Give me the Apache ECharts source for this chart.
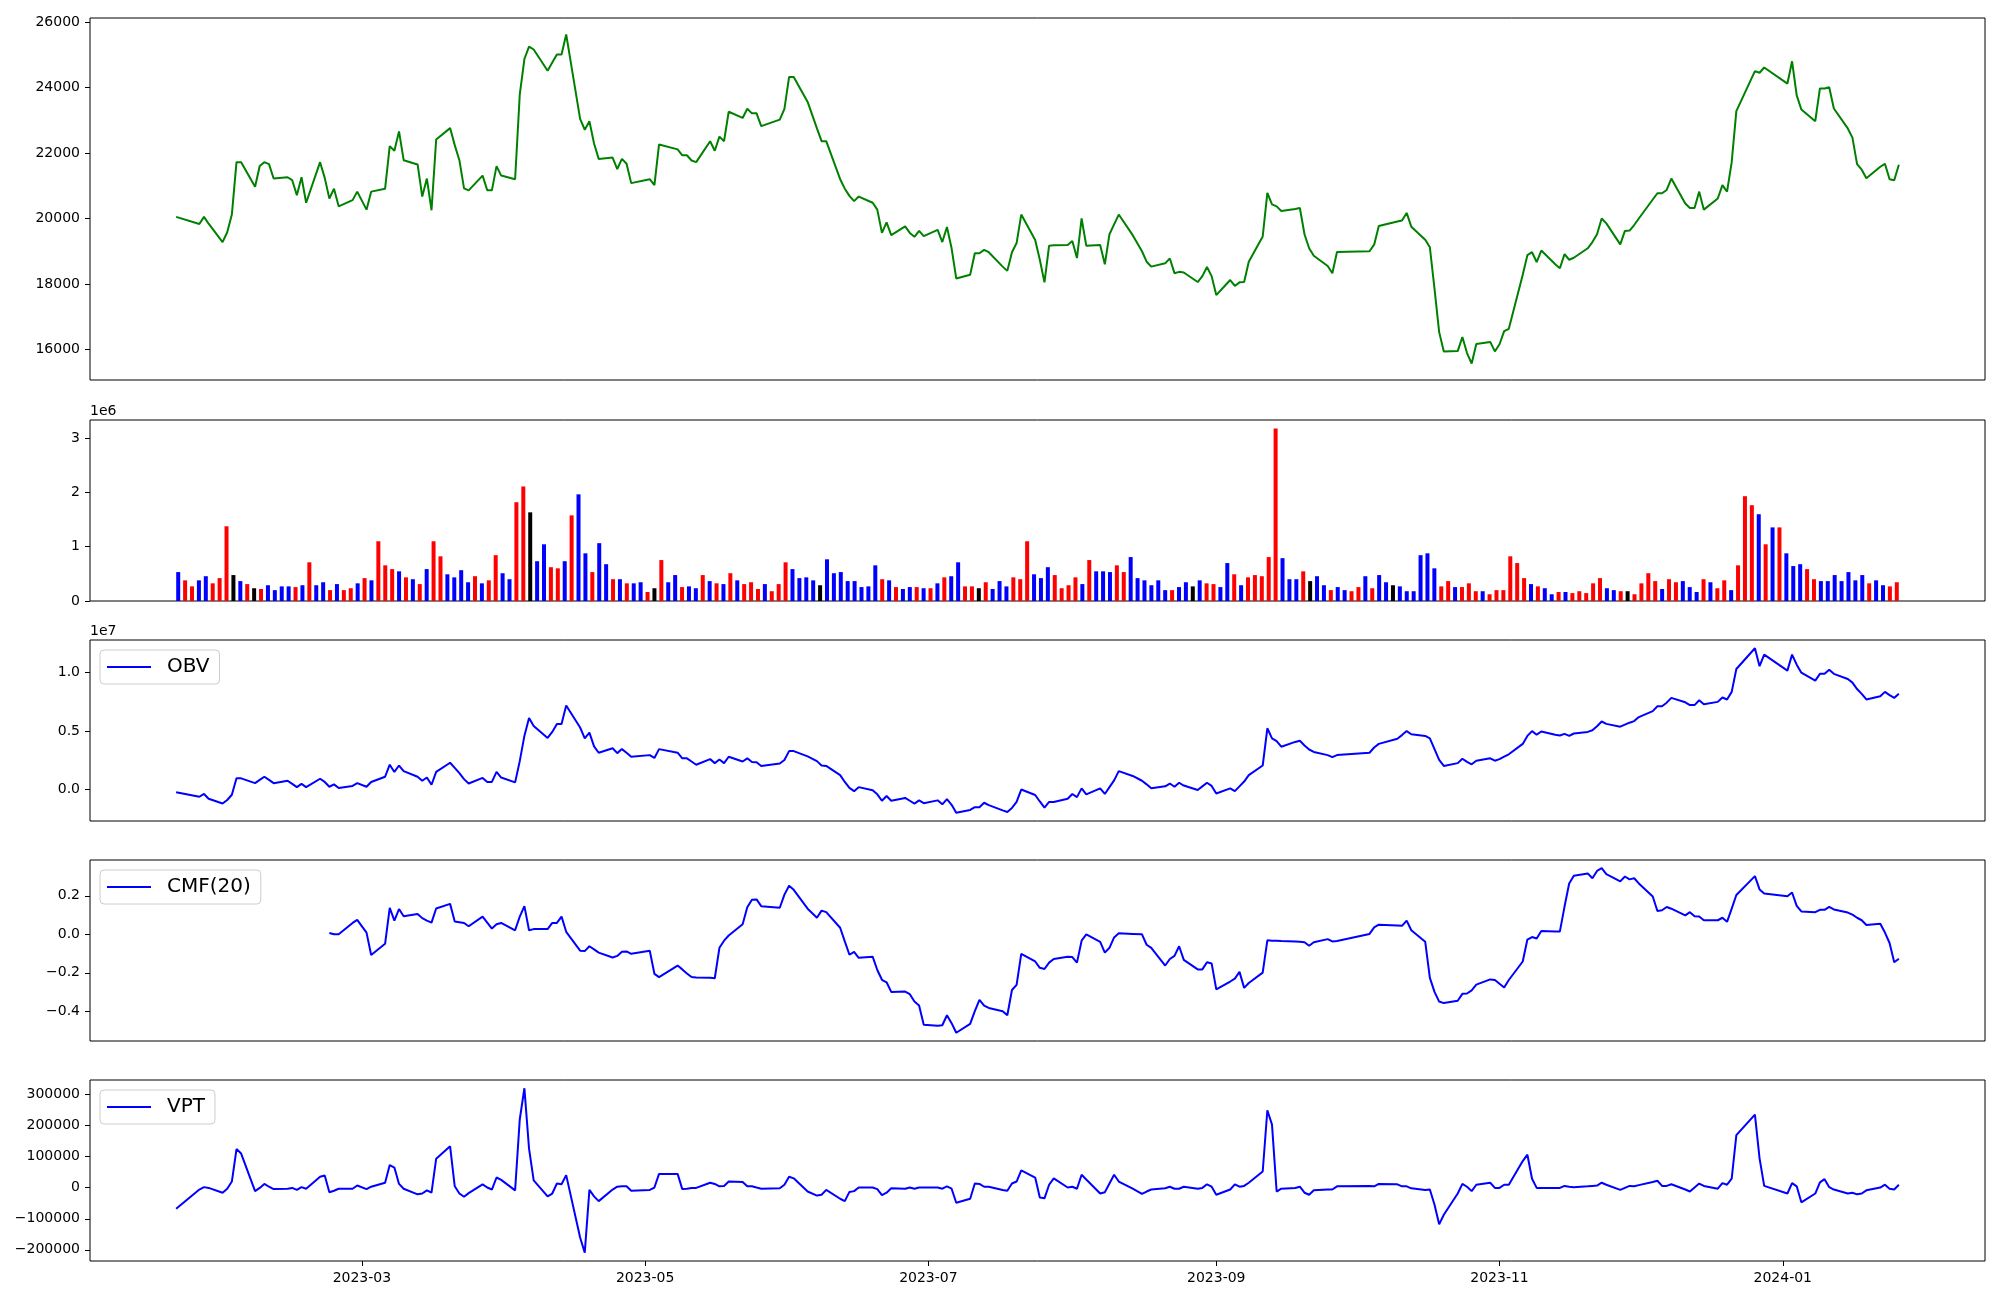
<!DOCTYPE html>
<html><head><meta charset="utf-8">
<script src="https://cdn.jsdelivr.net/npm/echarts@6/dist/echarts.min.js"></script>
<style>html,body{margin:0;padding:0;background:#fff}#c{width:2000px;height:1300px}</style>
</head><body><div id="c"></div>
<script>
// ---------------- DATA ----------------
const firstDay = '2023-01-20';
const lastDay = '2024-01-26';
const holidays = ['2023-01-23','2023-01-24','2023-03-01','2023-05-01','2023-05-05','2023-05-29','2023-06-06',
  '2023-08-15','2023-09-28','2023-09-29','2023-10-02','2023-10-03','2023-10-09','2023-12-25','2023-12-29','2024-01-01'];
const xTickLabels = ['2023-03','2023-05','2023-07','2023-09','2023-11','2024-01'];

const close = [20050,19830,20050,19840,19280,19580,
20120,21720,21720,20970,21600,21720,21660,21220,21260,21170,20710,21260,20480,21720,21240,20610,20910,20370,20560,20820,
20270,20820,20910,22210,22070,22660,21780,21650,20670,21220,20250,22410,22760,22240,21780,20920,20860,21310,20860,20860,21600,21310,
21200,23780,24870,25250,25160,24510,24760,25010,25010,25620,23040,22710,22970,22290,21820,21860,21510,21820,21670,21080,
21200,21020,22260,22110,21930,21930,21770,21720,22360,22070,22500,22360,23260,23070,23350,23210,23210,22820,23020,23350,
24320,24320,23560,22750,22360,22360,21200,20910,20690,20530,20670,20480,20270,19560,19880,19490,19760,19560,19440,19620,19460,
19650,19280,19740,19090,18170,18280,18940,18940,19040,18970,18530,18400,18970,19250,20120,19340,18740,18050,19170,19180,19190,
19310,18790,20000,19170,19190,18600,19520,19820,20120,19490,19000,18680,18530,18630,18780,18330,18370,18350,18060,18240,18520,18240,
17660,18120,17940,18050,18060,18680,19450,20780,20430,20370,20230,20290,20320,19520,19090,18860,18550,18330,18980,
19000,19200,19770,19910,19940,20170,19750,19350,19120,17850,16530,15940,15950,16380,15890,15570,16170,16230,15940,
16160,16560,16630,18280,18880,18970,18670,19020,18600,18480,18910,18740,18800,19090,19280,19520,20000,19850,19210,19620,19630,19800,
20000,20580,20770,20770,20870,21220,20460,20320,20320,20820,20270,20610,21020,20820,21720,23280,24500,24450,24610,
24120,24800,23760,23330,22970,23970,23970,24010,23360,22750,22470,21660,21490,21230,21580,21670,21200,21170,21640];

// volume in thousands of shares
const volumeK = [532,380,269,380,456,325,421,1375,477,366,311,235,221,290,200,269,269,256,290,712,290,345,200,311,200,235,325,421,380,1099,
656,587,546,435,401,311,587,1099,822,491,435,567,345,456,325,380,843,511,401,1817,2107,1631,732,1043,622,601,732,1575,1962,877,532,1064,677,
401,401,325,325,345,166,235,753,345,477,256,269,235,477,366,325,311,511,380,311,345,221,311,180,311,712,587,421,435,380,290,767,511,532,366,
366,256,269,656,401,380,256,221,256,256,235,235,325,435,456,712,269,269,235,345,221,366,269,435,401,1099,491,421,
622,477,235,290,435,311,753,546,546,532,656,532,808,421,380,290,380,200,200,256,345,269,380,325,311,256,698,491,290,435,477,456,808,3171,788,
401,401,546,366,456,290,200,256,200,180,256,456,235,477,345,290,269,180,180,843,877,601,269,366,256,256,325,180,
180,124,200,200,822,698,421,311,269,235,124,166,166,145,180,145,325,421,235,200,180,180,124,325,511,366,221,401,345,366,256,166,401,345,235,
380,200,656,1928,1762,1596,1043,1354,1354,877,643,677,587,401,366,366,477,366,532,380,477,325,380,290,269,345];

// bar colour per day: r = up, b = down, k = unchanged
const volColor = ['brrbbrrrkb','rkrbbbbrbr','bbrbrrbrbr','rrbrbrbrrb','bbbrbrrbbr','rkbbrrbrbb','rbb',
  'rbrbbrk','rbbrbbrbrb','rbrrrbrrrb','bbbkbbbbbb','bbrbrbbrbr','brbbrrkrbb','brrrbb',
  'brrr','rbrbbbrrbb','bbbbrbbkbr','rbbrbrrrrr','bbbrkbbrbb','rrbrbbkbbb','bbbrrbrrr',
  'b','rrrrrrbrbb','rbrrrrrbbr','krrrrbrrbb','brbrrbrrrb','rbrbbbrrbb','bbbbbrbbrr'].join('');

// OBV in thousands
const obvK = [-222,-598,-359,-769,-1179,-872,
-427,974,974,564,838,1111,838,564,769,496,222,496,222,940,667,256,462,154,325,564,
256,667,1111,2137,1521,2068,1590,1111,769,1043,427,1521,2308,1863,1419,906,530,1009,667,667,1521,1043,
632,2444,4598,6137,5453,4427,4940,5624,5624,7197,5316,4393,4872,3710,3162,3538,3128,3470,3162,2821,
2957,2718,3470,3162,2684,2684,2410,2137,2615,2274,2581,2274,2821,2410,2684,2376,2342,2034,2239,2547,
3299,3299,2855,2444,2068,2034,1248,667,154,-120,222,-51,-393,-940,-530,-940,-701,-940,-1179,-906,-1145,
-906,-1248,-803,-1282,-1966,-1726,-1487,-1487,-1111,-1316,-1761,-1897,-1556,-1043,17,-450,-1000,-1520,-1043,-1043,-769,
-359,-632,120,-393,120,-359,222,803,1590,1179,769,462,120,291,530,256,598,359,-17,291,598,325,
-325,120,-120,291,701,1248,2068,5248,4393,4154,3675,4085,4188,3778,3436,3231,2957,2786,2957,
3162,3607,3915,4359,4667,5009,4735,4598,4393,3470,2547,2034,2274,2650,2376,2171,2479,2684,2479,
2615,2821,3026,3915,4598,5009,4701,4974,4701,4632,4769,4598,4803,4940,5077,5419,5829,5624,5385,5556,5726,5863,
6205,6718,7128,7128,7436,7846,7470,7231,7231,7641,7299,7504,7880,7709,8359,10308,12085,10547,11538,
10171,11538,10684,10000,9316,9897,9897,10239,9897,9453,9145,8598,8188,7709,7983,8359,8085,7846,8188];

// CMF(20): no value for the first 21 days
const cmf = [null,null,null,null,null,null,
null,null,null,null,null,null,null,null,null,null,null,null,null,null,null,0.007,0.000,0.000,0.059,0.075,
0.009,-0.107,-0.049,0.137,0.071,0.131,0.094,0.106,0.084,0.071,0.061,0.134,0.158,0.067,0.063,0.059,0.042,0.092,0.061,0.030,0.052,0.059,
0.021,0.092,0.146,0.021,0.027,0.027,0.059,0.059,0.092,0.013,-0.085,-0.087,-0.062,-0.078,-0.095,-0.120,-0.112,-0.091,-0.089,-0.101,
-0.085,-0.205,-0.222,-0.162,-0.182,-0.203,-0.222,-0.224,-0.226,-0.228,-0.070,-0.033,-0.006,0.052,0.140,0.179,0.181,0.146,0.138,0.206,
0.252,0.231,0.133,0.086,0.123,0.115,0.034,-0.037,-0.106,-0.091,-0.122,-0.116,-0.185,-0.236,-0.249,-0.299,-0.297,-0.311,-0.349,-0.370,-0.469,
-0.474,-0.472,-0.420,-0.461,-0.511,-0.465,-0.399,-0.340,-0.370,-0.382,-0.399,-0.420,-0.289,-0.262,-0.101,-0.141,-0.174,-0.180,-0.147,-0.128,-0.116,
-0.118,-0.147,-0.033,0.000,-0.039,-0.095,-0.070,-0.016,0.005,0.002,0.000,-0.054,-0.070,-0.162,-0.128,-0.112,-0.062,-0.133,-0.182,-0.182,-0.145,-0.151,
-0.286,-0.245,-0.230,-0.195,-0.278,-0.253,-0.199,-0.031,-0.033,-0.033,-0.035,-0.037,-0.039,-0.041,-0.059,-0.041,-0.025,-0.037,-0.035,
0.002,0.036,0.050,0.046,0.044,0.071,0.021,-0.039,-0.226,-0.299,-0.349,-0.357,-0.345,-0.309,-0.307,-0.291,-0.261,-0.234,-0.237,
-0.257,-0.276,-0.237,-0.141,-0.027,-0.014,-0.022,0.017,0.015,0.015,0.144,0.264,0.304,0.316,0.291,0.329,0.343,0.312,0.275,0.300,0.285,0.291,
0.264,0.196,0.121,0.125,0.142,0.133,0.098,0.115,0.094,0.092,0.073,0.073,0.086,0.065,0.133,0.204,0.302,0.233,0.212,
0.198,0.217,0.148,0.119,0.115,0.127,0.127,0.142,0.129,0.113,0.102,0.086,0.073,0.048,0.055,0.009,-0.045,-0.145,-0.127];

// VPT in thousands
const vptK = [-67.7,-5.8,1.9,-0.6,-16.1,-3.2,
20,124.5,110,-11,-0.6,12.3,3.2,-4.5,-3.2,-0.6,-7.1,1.9,-3.2,35.5,39.3,-14.8,-9.7,-3.2,-3.2,7.1,
-4.5,3.2,16.1,72.9,65.1,12.3,-3.2,-21.3,-18.7,-8.4,-16.1,93.5,133.5,4.5,-18.7,-29,-17.4,11,0.6,-5.8,32.9,25.2,
-8.4,219.9,320.6,125.8,23.9,-27.7,-18.7,13.5,11,40.6,-160.6,-209.6,-7.1,-27.7,-43.2,-5.8,3.2,4.5,4.5,-9.7,
-7.1,0.6,44.5,44.5,-4.5,-3.2,-0.6,-0.6,16.1,12.3,4.5,5.8,20,18.7,4.5,4.5,0.6,-3.2,-1.9,9.7,
35.5,30.3,-12.3,-25.2,-22.6,-7.1,-35.5,-43.2,-13.5,-11,0.6,0.6,-4.5,-23.9,-16.1,-1.9,-3.2,0.6,-3.2,0.6,0.6,
0.6,-3.2,4.5,-3.2,-48.4,-35.5,13.5,12.3,3.2,3.2,-7.1,-9.7,13.5,20,56.1,32.9,-31.6,-34.2,9.7,30.3,0.6,
3.2,-3.2,41.9,26.4,-18.7,-14.8,13.5,41.9,20,-3.2,-20,-12.3,-5.8,-1.9,3.2,-3.2,-3.2,3.2,-3.2,-0.6,11,3.2,
-22.6,-5.8,11,3.2,5.8,16.1,52.2,249.6,203.2,-12.3,-3.2,-0.6,3.2,-16.1,-22.6,-8.4,-5.8,-5.8,4.5,
5.8,4.5,12.3,11,4.5,4.5,-1.9,-7.1,-5.8,-54.8,-118,-87.1,-18.7,12.3,3.2,-11,9.7,16.1,-0.6,
-0.6,9.7,9.7,85.8,106.4,29,-0.6,-0.6,-0.6,-0.6,5.8,3.2,1.9,4.5,5.8,7.1,16.1,9.7,-7.1,-0.6,5.8,4.5,
8.4,18.7,22.6,5.8,5.8,11,-5.8,-12.3,0.6,13.5,5.8,-3.2,14.8,9.7,29,169.6,235.4,94.8,5.8,
-18.7,14.8,4.5,-47.1,-18.7,17.4,27.7,1.9,-5.8,-18.7,-16.1,-21.3,-18.7,-8.4,0.6,9.7,-3.2,-5.8,9.7];

const priceTicks = [16000,18000,20000,22000,24000,26000];
const volTicks = [0,1,2,3];          // x 1e6
const obvTicks = [0,0.5,1.0];        // x 1e7
const cmfTicks = [-0.4,-0.2,0,0.2];
const vptTicks = [-200000,-100000,0,100000,200000,300000];

// ---------------- BUILD ----------------
const FONT = 'DejaVu Sans';
function parse(s){const p=s.split('-').map(Number);return new Date(p[0],p[1]-1,p[2]||1);}
function ymd(d){return d.getFullYear()+'-'+String(d.getMonth()+1).padStart(2,'0')+'-'+String(d.getDate()).padStart(2,'0');}
const hol = new Set(holidays);
const dates = [];
for (let d = parse(firstDay); d <= parse(lastDay); d.setDate(d.getDate()+1)) {
  const wd = d.getDay();
  if (wd === 0 || wd === 6 || hol.has(ymd(d))) continue;
  dates.push(d.getTime());
}
const N = dates.length;
const span = dates[N-1]-dates[0];
const xMin = dates[0]-0.05*span, xMax = dates[N-1]+0.05*span;
const tickTs = xTickLabels.map(s=>parse(s+'-01').getTime());
const tickLabelOf = {};
tickTs.forEach((t,i)=>{tickLabelOf[t]=xTickLabels[i];});

function lim(arr){const v=arr.filter(x=>x!=null);const mn=Math.min(...v),mx=Math.max(...v),r=mx-mn;return [mn-0.05*r,mx+0.05*r];}
const volume = volumeK.map(v=>v*1000), obv = obvK.map(v=>v*1000), vpt = vptK.map(v=>v*1000);
const pLim = lim(close), oLim = lim(obv), cLim = lim(cmf), vLim = lim(vpt);
const volMax = Math.max(...volume)*1.05;

const grids = [
  {top:18, height:362},
  {top:420, height:181},
  {top:640, height:181},
  {top:860, height:181},
  {top:1080, height:181}
].map(g=>Object.assign({left:90, right:15, show:true, borderColor:'#000', borderWidth:1, backgroundColor:'transparent'}, g));

const lblStyle = {fontSize:14, color:'#000', fontFamily:FONT, margin:10};
function dateAxis(gi, labels){
  return {type:'value', gridIndex:gi, min:xMin, max:xMax,
    axisLine:{show:false, onZero:false}, splitLine:{show:false},
    axisTick:{show:labels, customValues:tickTs, length:5, lineStyle:{color:'#000'}},
    axisLabel:Object.assign({show:labels, customValues:tickTs, hideOverlap:false,
      formatter:v=>{ if (tickLabelOf[v]) return tickLabelOf[v]; const d=new Date(v); return d.getFullYear()+'-'+String(d.getMonth()+1).padStart(2,'0');}}, lblStyle)};
}
function yAxis(gi, mn, mx, ticks, fmt){
  return {type:'value', gridIndex:gi, min:mn, max:mx, position:'left', splitLine:{show:false},
    axisLine:{show:false, onZero:false},
    axisTick:{show:true, length:5, customValues:ticks, lineStyle:{color:'#000'}},
    axisLabel:Object.assign({customValues:ticks, formatter:fmt}, lblStyle)};
}
const minus = s => s.replace('-', '\u2212');

const colMap = {r:'#ff0000', b:'#0000ff', k:'#000000'};
const barData = volume.map((v,i)=>({value:[i,v], itemStyle:{color:colMap[volColor[i]]}}));
const pair = arr => dates.map((t,i)=>[t,arr[i]]).filter(p=>p[1]!=null);

function legend(name, top){
  return {data:[{name:name, icon:'rect'}], left:100, top:top, orient:'horizontal', selectedMode:false,
    itemWidth:44, itemHeight:2, padding:[7,10,7,7],
    borderColor:'#cccccc', borderWidth:1, borderRadius:4, backgroundColor:'rgba(255,255,255,0.8)',
    textStyle:{fontSize:20, color:'#000', fontFamily:FONT, padding:[0,0,0,11]}};
}

const option = {
  animation:false,
  backgroundColor:'#fff',
  textStyle:{fontFamily:FONT},
  grid:grids,
  xAxis:[
    dateAxis(0,false),
    {type:'value', gridIndex:1, min:-0.3-0.05*(N-1+0.6), max:N-1+0.3+0.05*(N-1+0.6),
      axisLine:{show:false, onZero:false}, axisTick:{show:false}, axisLabel:{show:false}, splitLine:{show:false}},
    dateAxis(2,false), dateAxis(3,false), dateAxis(4,true)
  ],
  yAxis:[
    yAxis(0, pLim[0], pLim[1], priceTicks, v=>String(Math.round(v))),
    yAxis(1, 0, volMax, volTicks.map(v=>v*1e6), v=>String(Math.round(v/1e6))),
    yAxis(2, oLim[0], oLim[1], obvTicks.map(v=>v*1e7), v=>minus((v/1e7).toFixed(1))),
    yAxis(3, cLim[0], cLim[1], cmfTicks, v=>minus(v.toFixed(1))),
    yAxis(4, vLim[0], vLim[1], vptTicks, v=>minus(String(Math.round(v))))
  ],
  legend:[legend('OBV', 650), legend('CMF(20)', 870), legend('VPT', 1090)],
  graphic:[
    {type:'text', left:90, top:404, style:{text:'1e6', fontSize:14, fill:'#000', fontFamily:FONT}},
    {type:'text', left:90, top:624, style:{text:'1e7', fontSize:14, fill:'#000', fontFamily:FONT}}
  ],
  series:[
    {name:'Close', type:'line', xAxisIndex:0, yAxisIndex:0, symbol:'none', data:pair(close),
      lineStyle:{color:'#008000', width:2}, itemStyle:{color:'#008000'}},
    {name:'Volume', type:'bar', xAxisIndex:1, yAxisIndex:1, barWidth:4, data:barData},
    {name:'OBV', type:'line', xAxisIndex:2, yAxisIndex:2, symbol:'none', data:pair(obv),
      lineStyle:{color:'#0000ff', width:2}, itemStyle:{color:'#0000ff'}},
    {name:'CMF(20)', type:'line', xAxisIndex:3, yAxisIndex:3, symbol:'none', data:pair(cmf),
      lineStyle:{color:'#0000ff', width:2}, itemStyle:{color:'#0000ff'}},
    {name:'VPT', type:'line', xAxisIndex:4, yAxisIndex:4, symbol:'none', data:pair(vpt),
      lineStyle:{color:'#0000ff', width:2}, itemStyle:{color:'#0000ff'}}
  ]
};
if (N !== 250 || close.length !== N || volumeK.length !== N || volColor.length !== N || obvK.length !== N || cmf.length !== N || vptK.length !== N) {
  console.error('length mismatch', N, close.length, volumeK.length, volColor.length, obvK.length, cmf.length, vptK.length);
}
const chart = echarts.init(document.getElementById('c'), null, {renderer:'canvas'});
chart.setOption(option);
</script></body></html>
